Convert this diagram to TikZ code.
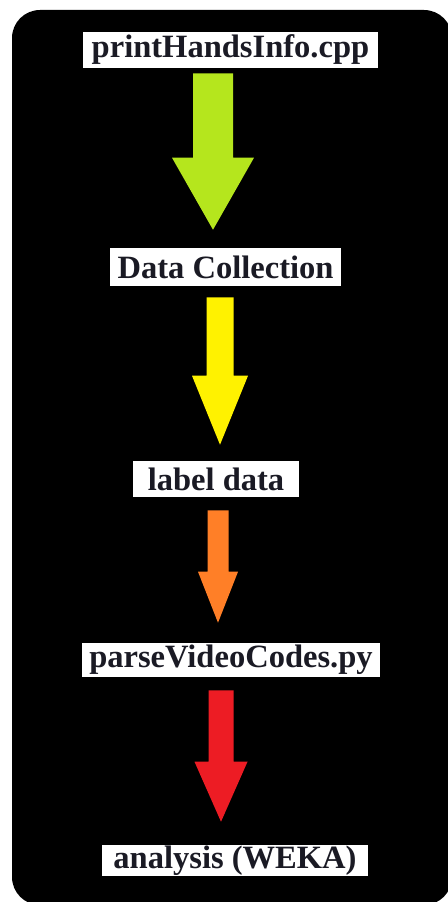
\documentclass[tikz,border=0pt]{standalone}
\usepackage{fontspec}
\setmainfont{Liberation Serif}
\usetikzlibrary{calc}

\definecolor{limegreen}{HTML}{B5E61D}
\definecolor{paintyellow}{HTML}{FFF200}
\definecolor{paintorange}{HTML}{FF7F27}
\definecolor{paintred}{HTML}{ED1C24}
\definecolor{inkdark}{HTML}{1A1A24}

% Block arrow between two boxes:
% #1 from node, #2 to node, #3 coordinate giving the arrow's x,
% #4 half shaft width, #5 half head width, #6 head length,
% #7 gap below the upper box, #8 gap above the lower box, #9 colour
\newcommand\blockarrow[9]{%
  \fill[#9]
    ($(#1.south-|#3)+(-#4,#7)$) -- ($(#1.south-|#3)+(#4,#7)$)
    -- ($(#2.north-|#3)+(#4,-#8-#6)$) -- ($(#2.north-|#3)+(#5,-#8-#6)$)
    -- ($(#2.north-|#3)+(0,-#8)$)
    -- ($(#2.north-|#3)+(-#5,-#8-#6)$) -- ($(#2.north-|#3)+(-#4,-#8-#6)$)
    -- cycle;}

\tikzset{
  stagebox/.style={fill=white, draw=none, inner sep=0pt, text=inkdark,
    font=\fontsize{24.4}{28}\selectfont\bfseries}
}

\begin{document}
\begin{tikzpicture}[x=0.75pt, y=-0.75pt]
  % page and dark panel
  \fill[white] (0,0) rectangle (448,902);
  \useasboundingbox (0,0) rectangle (448,902);
  \fill[black, rounded corners=21pt] (12,10) rectangle (452,905);

  % stages
  \node[stagebox, minimum width=221.25pt, minimum height=27pt]
    (b1) at (230.5,50) {printHandsInfo.cpp};
  \node[stagebox, minimum width=173.25pt, minimum height=28.5pt]
    (b2) at (225.5,267) {Data Collection};
  \node[stagebox, minimum width=124.5pt, minimum height=27pt]
    (b3) at (216,479) {label data};
  \node[stagebox, minimum width=223.5pt, minimum height=25.5pt]
    (b4) at (231,660) {parseVideoCodes.py};
  \node[stagebox, minimum width=199.5pt, minimum height=23.25pt]
    (b5) at (235,860.5) {analysis (WEKA)};

  % arrow axes
  \coordinate (x1) at (213,0);
  \coordinate (x2) at (220,0);
  \coordinate (x3) at (218,0);
  \coordinate (x4) at (221,0);

  % arrows
  \blockarrow{b1}{b2}{x1}{20}{41}{72}{5}{18}{limegreen}
  \blockarrow{b2}{b3}{x2}{13.5}{28}{69}{11}{16}{paintyellow}
  \blockarrow{b3}{b4}{x3}{10.5}{20}{51}{13}{20}{paintorange}
  \blockarrow{b4}{b5}{x4}{12.5}{26.5}{60}{13}{23}{paintred}
\end{tikzpicture}
\end{document}
